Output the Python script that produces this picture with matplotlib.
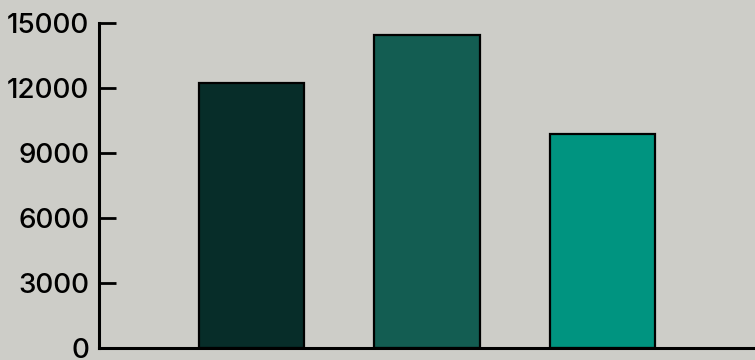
import matplotlib
matplotlib.use('Agg')
import matplotlib.pyplot as plt

# values
categories = ['A', 'B', 'C']
values = [12230, 14420, 9840]
colors = ['#072D29', '#135D52', '#009480']
yticks = [0, 3000, 6000, 9000, 12000, 15000]

plt.rcParams['font.family'] = ['Inter', 'DejaVu Sans']

fig = plt.figure(figsize=(7.55, 3.6), dpi=100)
fig.patch.set_facecolor('#CDCDC8')
ax = fig.add_axes([99 / 755, 1 - 347.7 / 360, 1 - 99 / 755, (347.7 - 22.7) / 360])
ax.set_facecolor('none')

x = range(len(categories))
ax.bar(x, values, width=0.6, color=colors, edgecolor='black', linewidth=1.6, zorder=2)

ax.set_xlim(-0.874, 2.874)
ax.set_ylim(0, 15000)
ax.set_yticks(yticks)
ax.set_yticklabels([str(t) for t in yticks], fontsize=20, fontweight='medium')
ax.tick_params(axis='y', direction='in', length=12, width=2, pad=7, colors='black')
ax.set_xticks([])

for side in ['top', 'right']:
    ax.spines[side].set_visible(False)
for side in ['left', 'bottom']:
    ax.spines[side].set_linewidth(2.2)
    ax.spines[side].set_color('black')

fig.savefig('out.png', dpi=100, facecolor=fig.get_facecolor())
